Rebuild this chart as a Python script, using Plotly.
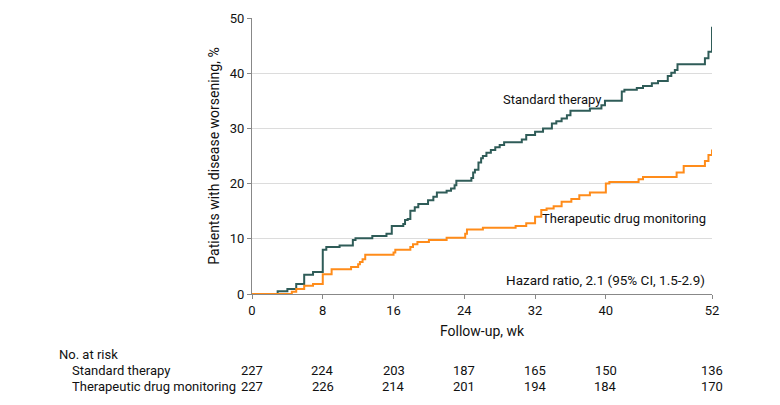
import plotly.graph_objects as go

# Standard therapy (weeks, % with disease worsening)
std_weeks = [0, 2.9, 4.0, 5.0, 5.9, 6.9, 8.0, 8.4, 9.9, 11.4, 11.7, 13.6, 15.2, 15.8, 17.1, 17.3,
             17.6, 17.9, 18.4, 18.8, 19.9, 20.5, 20.9, 22.0, 22.5, 22.9, 23.1, 24.8, 25.0, 25.2,
             25.6, 25.9, 26.1, 26.5, 27.0, 27.5, 28.0, 28.5, 30.5, 31.0, 32.0, 32.9, 33.9, 34.4,
             35.0, 35.6, 36.0, 38.2, 39.5, 39.9, 41.8, 42.1, 43.5, 44.2, 45.2, 45.9, 47.0, 47.4,
             47.8, 48.1, 51.2, 51.6, 52.0]
std_pct = [0, 0.5, 0.9, 1.8, 3.5, 4.0, 8.0, 8.5, 8.8, 9.8, 10.1, 10.5, 10.9, 12.3, 12.7, 13.4,
           13.6, 15.1, 15.7, 16.3, 17.0, 17.6, 18.4, 18.7, 19.1, 19.7, 20.5, 21.0, 22.0, 22.5,
           23.8, 24.6, 25.0, 25.6, 26.1, 26.6, 27.0, 27.5, 28.0, 28.8, 29.4, 30.0, 30.9, 31.3,
           31.8, 32.4, 33.2, 33.6, 34.2, 35.0, 36.7, 37.0, 37.3, 37.7, 38.2, 38.6, 39.5, 40.1,
           40.6, 41.6, 42.7, 43.9, 48.4]

# Therapeutic drug monitoring
tdm_weeks = [0, 4.5, 5.0, 5.9, 6.9, 8.0, 9.0, 11.2, 12.0, 12.2, 12.5, 12.8, 16.0, 16.2, 17.9,
             18.2, 18.7, 20.0, 22.0, 24.1, 24.3, 26.1, 29.8, 31.0, 32.0, 32.7, 33.3, 34.1, 35.0,
             36.1, 37.0, 38.2, 40.0, 40.4, 43.7, 44.2, 48.0, 48.8, 51.2, 51.6, 52.0]
tdm_pct = [0, 0.4, 0.9, 1.5, 1.8, 3.6, 4.5, 4.9, 5.4, 5.8, 6.3, 7.1, 7.5, 8.0, 8.5,
           9.0, 9.4, 9.8, 10.2, 10.9, 11.7, 12.0, 12.3, 12.8, 14.0, 15.2, 15.5, 15.9, 16.7,
           17.2, 17.9, 18.4, 20.0, 20.3, 20.8, 21.2, 22.0, 23.2, 24.1, 25.2, 26.2]

tick_weeks = [0, 8, 16, 24, 32, 40, 52]
risk_std = [227, 224, 203, 187, 165, 150, 136]
risk_tdm = [227, 226, 214, 201, 194, 184, 170]

STD_COLOR = "#2f5c58"
TDM_COLOR = "#ff8c1a"
FONT = "Roboto"
TXT = "#111111"

fig = go.Figure()
fig.add_trace(go.Scatter(x=std_weeks, y=std_pct, mode="lines", line=dict(color=STD_COLOR, width=2, shape="hv"),
                         name="Standard therapy", showlegend=False))
fig.add_trace(go.Scatter(x=tdm_weeks, y=tdm_pct, mode="lines", line=dict(color=TDM_COLOR, width=2, shape="hv"),
                         name="Therapeutic drug monitoring", showlegend=False))

ann = []
ann.append(dict(x=33.9, y=35.3, xref="x", yref="y", text="Standard therapy", showarrow=False,
                xanchor="center", yanchor="middle"))
ann.append(dict(x=51.5, y=13.6, xref="x", yref="y", text="Therapeutic drug monitoring", showarrow=False,
                xanchor="right", yanchor="middle"))
ann.append(dict(x=51.4, y=2.5, xref="x", yref="y", text="Hazard ratio, 2.1 (95% CI, 1.5-2.9)", showarrow=False,
                xanchor="right", yanchor="middle", font=dict(size=13.5)))

ann.append(dict(x=(57 - 252) / 460, y=(294 - 354) / 276, xref="paper", yref="paper", text="No. at risk",
                showarrow=False, xanchor="left", yanchor="middle"))
ann.append(dict(x=(70 - 252) / 460, y=(294 - 370.5) / 276, xref="paper", yref="paper", text="Standard therapy",
                showarrow=False, xanchor="left", yanchor="middle"))
ann.append(dict(x=(70 - 252) / 460, y=(294 - 386) / 276, xref="paper", yref="paper",
                text="Therapeutic drug monitoring", showarrow=False, xanchor="left", yanchor="middle"))
for wk, a, b in zip(tick_weeks, risk_std, risk_tdm):
    ann.append(dict(x=wk, y=(294 - 370.5) / 276, xref="x", yref="paper", text=str(a), showarrow=False,
                    xanchor="center", yanchor="middle"))
    ann.append(dict(x=wk, y=(294 - 386) / 276, xref="x", yref="paper", text=str(b), showarrow=False,
                    xanchor="center", yanchor="middle"))

fig.update_layout(
    width=780, height=405,
    margin=dict(l=252, r=68, t=18, b=111),
    paper_bgcolor="white", plot_bgcolor="white",
    font=dict(family=FONT, size=13, color=TXT),
    annotations=ann,
    xaxis=dict(range=[0, 52], tickvals=tick_weeks, ticks="outside", ticklen=4, tickcolor="#888",
               showline=True, linecolor="#888", linewidth=1, showgrid=False, zeroline=False,
               title=dict(text="Follow-up, wk", standoff=9, font=dict(size=14)), tickfont=dict(size=13)),
    yaxis=dict(range=[0, 50], tickvals=[0, 10, 20, 30, 40, 50], ticks="outside", ticklen=4, tickcolor="#888",
               showline=True, linecolor="#888", linewidth=1, showgrid=True, gridcolor="#dcdcdc", gridwidth=1,
               zeroline=False, title=dict(text="Patients with disease worsening, %", standoff=6, font=dict(size=14)),
               tickfont=dict(size=13)),
)

fig.write_html("out.html", config={"displayModeBar": False},
               post_script="document.body.style.margin='0';document.body.style.padding='0';")
